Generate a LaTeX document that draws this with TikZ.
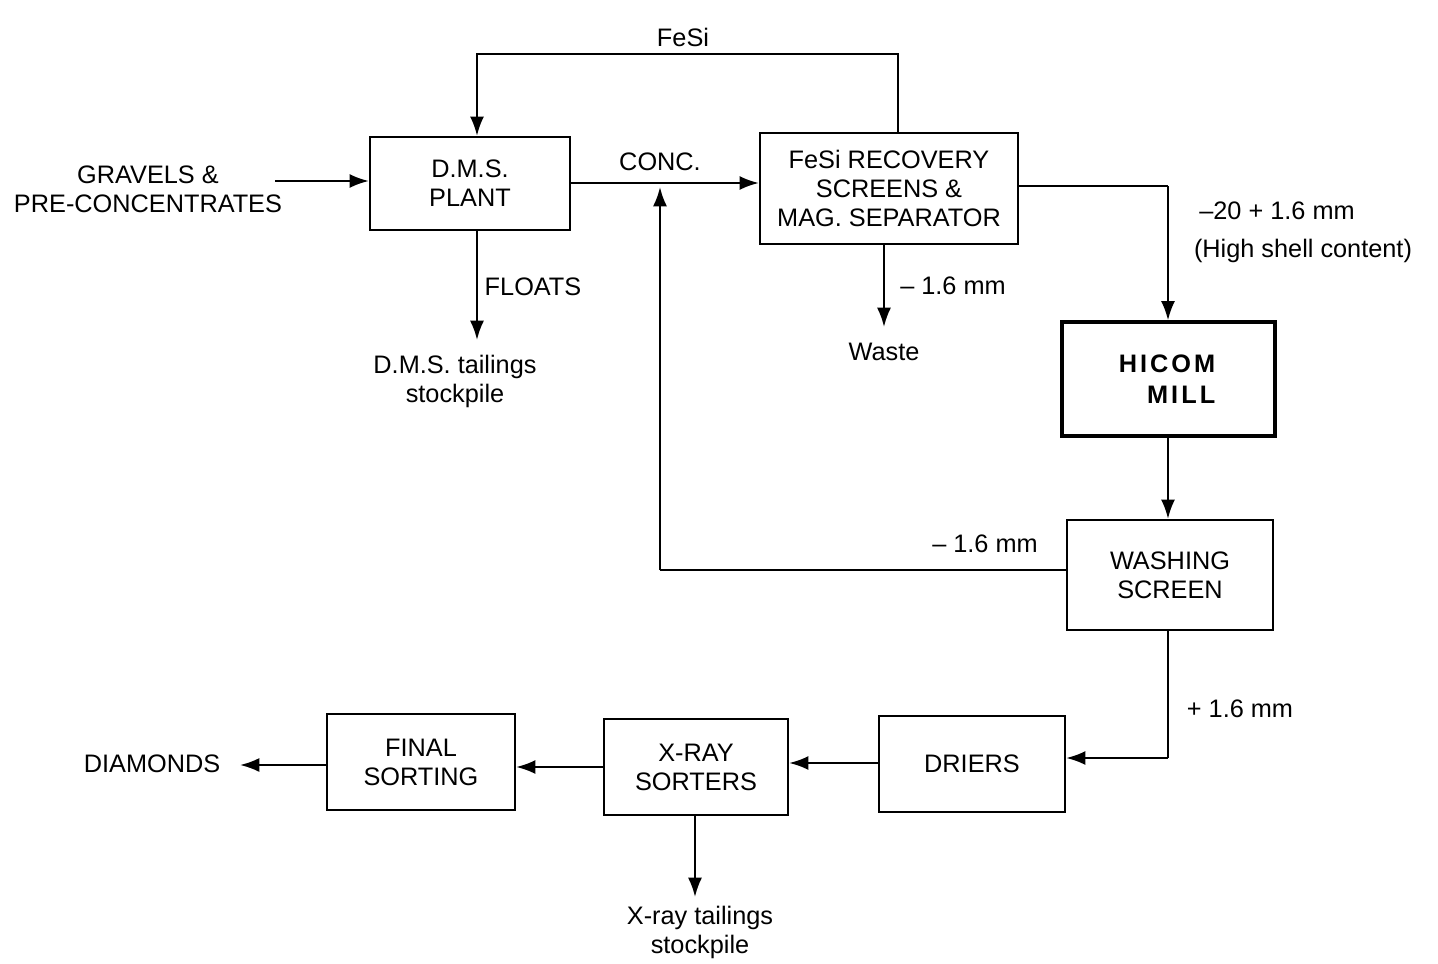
\documentclass[tikz,border=0pt]{standalone}
\usepackage{fontspec}
\setmainfont{Liberation Sans}
\usetikzlibrary{arrows.meta}
\begin{document}
\begin{tikzpicture}[x=0.02cm,y=-0.02cm,
  every node/.style={font=\fontsize{14.4}{16.5}\selectfont, inner sep=0pt},
  box/.style={draw, line width=1.3pt, align=center},
  lbl/.style={align=center},
  arr/.style={line width=1.3pt, -{Latex[length=11pt,width=8pt]}},
  ln/.style={line width=1.3pt}]
\useasboundingbox (0,0) rectangle (1438,964);
% boxes
\node[box, minimum width=4cm, minimum height=1.86cm] (dms) at (470,183.5) {D.M.S.\\PLANT};
\node[box, minimum width=5.16cm, minimum height=2.22cm] (fesi) at (889,188.5) {FeSi RECOVERY\\SCREENS \&\\MAG. SEPARATOR};
\node[box, line width=1.9pt, minimum width=4.26cm, minimum height=2.28cm] (hicom) at (1168.5,379) {};
\node[lbl, align=right, font=\fontsize{14.4}{17.5}\selectfont\bfseries\addfontfeature{LetterSpace=12}] (hicomtxt) at (1167,379) {HICOM\\MILL};
\node[box, minimum width=4.12cm, minimum height=2.2cm] (wash) at (1170,575) {WASHING\\SCREEN};
\node[box, minimum width=3.72cm, minimum height=1.92cm] (driers) at (972,764) {DRIERS};
\node[box, minimum width=3.68cm, minimum height=1.92cm] (xray) at (696,767) {X-RAY\\SORTERS};
\node[box, minimum width=3.76cm, minimum height=1.92cm] (final) at (421,762) {FINAL\\SORTING};
% text nodes
\node[lbl] (grav) at (148,189) {GRAVELS \&\\PRE-CONCENTRATES};
\node[lbl] (diam) at (152,764) {DIAMONDS};
\node[lbl] (dmstail) at (455,381) {D.M.S. tailings\\stockpile};
\node[lbl] (xtail) at (700,932) {X-ray tailings\\stockpile};
\node[lbl] (waste) at (884,352) {Waste};
\node[lbl] (fesilbl) at (683,37) {FeSi};
\node[lbl] (conc) at (660,162) {CONC.};
\node[lbl] (floats) at (533,287) {FLOATS};
\node[lbl] (m16a) at (953,286) {-- 1.6 mm};
\node[lbl] (m20) at (1277,211) {--20 + 1.6 mm};
\node[lbl] (shell) at (1303,251) {(High shell content)};
\node[lbl] (m16b) at (985,544) {-- 1.6 mm};
\node[lbl] (p16) at (1240,709) {+ 1.6 mm};
% coordinates
\coordinate (gs) at (275,181);
\coordinate (fl) at (898,54);
\coordinate (fr) at (477,54);
\coordinate (ret) at (660,570);
\coordinate (cj) at (660,183);
\coordinate (turn) at (1168,186);
\coordinate (dturn) at (1168,758);
% connectors
\draw[arr] (gs) -- (gs -| dms.west);
\draw[arr] (fesi.north -| fl) -- (fl) -- (fr) -- (dms.north -| fr);
\draw[arr] (dms.east |- cj) -- (fesi.west |- cj);
\draw[arr] (dms.south -| fr) -- (477,340);
\draw[arr] (fesi.south -| 884,0) -- (884,327);
\draw[ln] (fesi.east |- turn) -- (turn);
\draw[arr] (turn) -- (hicom.north -| turn);
\draw[arr] (hicom.south -| turn) -- (wash.north -| turn);
\draw[ln] (wash.west |- ret) -- (ret);
\draw[arr] (ret) -- (660,187);
\draw[ln] (wash.south -| dturn) -- (dturn);
\draw[arr] (dturn) -- (driers.east |- dturn);
\draw[arr] (driers.west |- 0,763) -- (xray.east |- 0,763);
\draw[arr] (xray.west |- 0,767) -- (final.east |- 0,767);
\draw[arr] (final.west |- 0,765) -- (240,765);
\draw[arr] (xray.south -| 695,0) -- (695,897);
\end{tikzpicture}
\end{document}
